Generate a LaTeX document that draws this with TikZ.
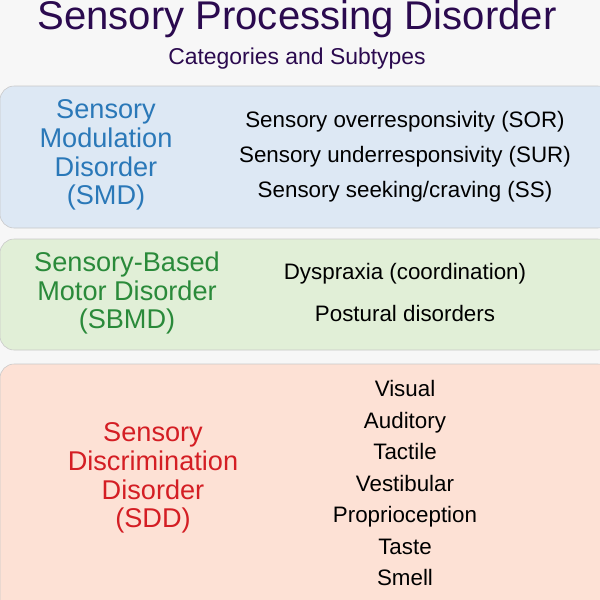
\documentclass[tikz,border=0pt]{standalone}
\usepackage{fontspec}
\setmainfont{Liberation Sans}
\definecolor{titlec}{HTML}{2B0A4F}
\definecolor{modfill}{HTML}{DDE8F4}
\definecolor{motfill}{HTML}{E1EFD7}
\definecolor{disfill}{HTML}{FDE1D5}
\definecolor{modtext}{HTML}{2A78B8}
\definecolor{mottext}{HTML}{2A8A3A}
\definecolor{distext}{HTML}{D41E24}
\definecolor{edge}{HTML}{C8C8C8}
\tikzset{
  band/.style={draw=edge, rounded corners=10pt},
  cat/.style={align=center, font=\fontsize{19.3}{20.5}\selectfont},
  item/.style={font=\fontsize{15.9}{17}\selectfont, text height=11.5pt, text depth=3.5pt}
}
\begin{document}
\begin{tikzpicture}[x=0.025cm,y=-0.025cm]
  \useasboundingbox (0,0) rectangle (600,600);
  \fill[gray!6] (0,0) rectangle (600,600);
  \node[font=\fontsize{28.5}{30}\selectfont, text=titlec] (title) at (297,19) {Sensory Processing Disorder};
  \node[font=\fontsize{16.3}{18}\selectfont, text=titlec] (sub) at (297,59) {Categories and Subtypes};
  % bands
  \draw[band, fill=modfill] (0,86) rectangle (612,228);
  \draw[band, fill=motfill] (0,239) rectangle (612,350);
  \draw[band, fill=disfill] (0,364) rectangle (612,620);
  % modulation
  \node[cat, text=modtext] (smd) at (106,155) {Sensory\\Modulation\\Disorder\\(SMD)};
  \node[item] (sor) at (405,122) {Sensory overresponsivity (SOR)};
  \node[item] (sur) at (405,157) {Sensory underresponsivity (SUR)};
  \node[item] (ss) at (405,192) {Sensory seeking/craving (SS)};
  % motor
  \node[cat, text=mottext] (sbmd) at (127,293) {Sensory-Based\\Motor Disorder\\(SBMD)};
  \node[item] (dys) at (405,274) {Dyspraxia (coordination)};
  \node[item] (pos) at (405,316) {Postural disorders};
  % discrimination
  \node[cat, text=distext] (sdd) at (153,478) {Sensory\\Discrimination\\Disorder\\(SDD)};
  \foreach \s [count=\i from 0] in {Visual,Auditory,Tactile,Vestibular,Proprioception,Taste,Smell}
    \node[item] (sense\i) at (405,391+31.5*\i) {\s};
\end{tikzpicture}
\end{document}
